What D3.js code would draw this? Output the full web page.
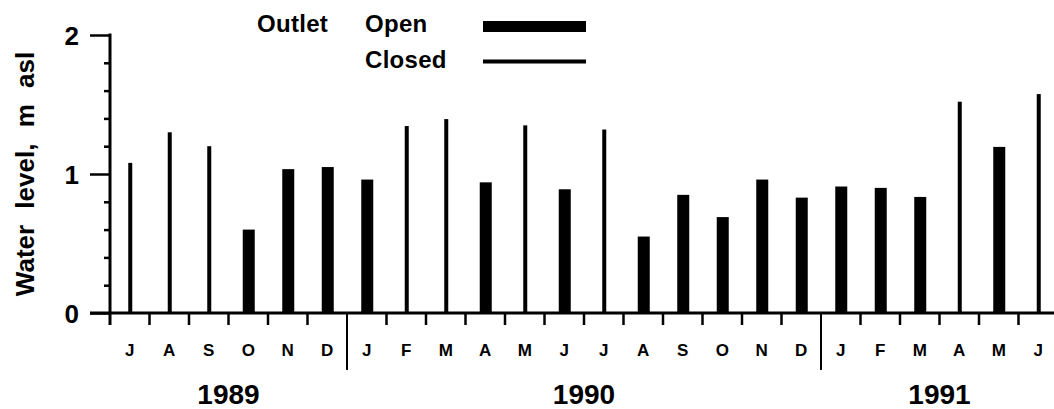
<!DOCTYPE html>
<html>
<head>
<meta charset="utf-8">
<script src="https://cdn.jsdelivr.net/npm/d3@7"></script>
<style>
  body { margin: 0; background: #fff; }
  svg { display: block; font-family: "Liberation Sans", Arial, Helvetica, sans-serif; }
</style>
</head>
<body>
<div class="chart-container"></div>
<script>
const monthLabels = ["J","A","S","O","N","D","J","F","M","A","M","J","J","A","S","O","N","D","J","F","M","A","M","J"];
const waterLevel = [1.08,1.30,1.20,0.60,1.035,1.05, 0.96,1.345,1.395,0.94,1.35,0.89,1.32,0.55,0.85,0.69,0.96,0.83, 0.91,0.90,0.835,1.52,1.195,1.575];
const outletState = ["Closed","Closed","Closed","Open","Open","Open", "Open","Closed","Closed","Open","Closed","Open","Closed","Open","Open","Open","Open","Open", "Open","Open","Open","Closed","Open","Closed"];
const yearLabels = ["1989","1990","1991"];
const yearMonths = [6, 12, 6];
const yTicks = [0, 0.2, 0.4, 0.6, 0.8, 1, 1.2, 1.4, 1.6, 1.8, 2];
const legendItems = ["Open", "Closed"];

const width = 1054, height = 409;
const x0 = 110, monthW = 39.5;

const svg = d3.select(".chart-container").append("svg")
  .attr("width", width)
  .attr("height", height);

const data = waterLevel.map((v, i) => ({ i, month: monthLabels[i], level: v, outlet: outletState[i] }));

const xScale = d3.scaleBand()
  .domain(d3.range(monthLabels.length))
  .range([x0, x0 + monthW * monthLabels.length])
  .padding(0);

const yScale = d3.scaleLinear()
  .domain([0, 2])
  .range([313, 35]);

const barWidth = d3.scaleOrdinal()
  .domain(["Open", "Closed"])
  .range([12, 4]);

// bars
svg.selectAll(".bar")
  .data(data)
  .enter().append("rect")
  .attr("class", "bar")
  .attr("x", d => xScale(d.i) + xScale.bandwidth() / 2 - barWidth(d.outlet) / 2 + 0.5)
  .attr("y", d => yScale(d.level))
  .attr("width", d => barWidth(d.outlet))
  .attr("height", d => yScale(0) - yScale(d.level))
  .attr("fill", "#000");

// y axis
const yAxis = svg.append("g")
  .attr("transform", `translate(${x0},0)`)
  .call(d3.axisLeft(yScale)
    .tickValues(yTicks)
    .tickSize(0)
    .tickFormat(""));
yAxis.select(".domain").remove();

yAxis.append("line")
  .attr("x1", 0).attr("x2", 0)
  .attr("y1", yScale(2) - 1.5)
  .attr("y2", yScale(0) + 12)
  .attr("stroke", "#000")
  .attr("stroke-width", 3);

yAxis.selectAll(".tick line")
  .attr("x2", d => (d % 1 === 0 ? -20 : -6))
  .attr("stroke", "#000")
  .attr("stroke-width", 2.5);

yAxis.selectAll(".tick")
  .filter(d => d % 1 === 0)
  .append("text")
  .attr("x", -31)
  .attr("dy", "0.36em")
  .attr("fill", "#000")
  .style("text-anchor", "end")
  .style("font-size", "26px")
  .style("font-weight", "bold")
  .text(d => d3.format("d")(d));

svg.append("text")
  .attr("transform", `translate(34,174) rotate(-90)`)
  .style("text-anchor", "middle")
  .style("font-size", "26px")
  .style("font-weight", "bold")
  .style("word-spacing", "9px")
  .text("Water level, m asl");

// x axis
svg.append("line")
  .attr("x1", x0 - 20).attr("x2", width)
  .attr("y1", yScale(0)).attr("y2", yScale(0))
  .attr("stroke", "#000")
  .attr("stroke-width", 3);

const yearStarts = d3.cumsum([0].concat(yearMonths)).slice(0, -1);

svg.selectAll(".month-tick")
  .data(d3.range(1, monthLabels.length + 1))
  .enter().append("line")
  .attr("class", "month-tick")
  .attr("x1", i => x0 + monthW * i).attr("x2", i => x0 + monthW * i)
  .attr("y1", yScale(0))
  .attr("y2", i => (yearStarts.includes(i) ? 370 : 325))
  .attr("stroke", "#000")
  .attr("stroke-width", i => (yearStarts.includes(i) ? 2 : 2.5));

svg.selectAll(".month-label")
  .data(data)
  .enter().append("text")
  .attr("class", "month-label")
  .attr("x", d => xScale(d.i) + xScale.bandwidth() / 2)
  .attr("y", 356)
  .style("text-anchor", "middle")
  .style("font-size", "17px")
  .style("font-weight", "bold")
  .text(d => d.month);

svg.selectAll(".year-label")
  .data(yearLabels)
  .enter().append("text")
  .attr("class", "year-label")
  .attr("x", (d, i) => x0 + monthW * (yearStarts[i] + yearMonths[i] / 2))
  .attr("y", 404)
  .style("text-anchor", "middle")
  .style("font-size", "28px")
  .style("font-weight", "bold")
  .text(d => d);

// legend
const legend = svg.append("g").attr("class", "legend");

legend.append("text")
  .attr("x", 257)
  .attr("y", 32)
  .style("font-size", "24px")
  .style("font-weight", "bold")
  .style("letter-spacing", "0.3px")
  .text("Outlet");

const legendRows = legend.selectAll(".legend-item")
  .data(legendItems)
  .enter().append("g")
  .attr("class", "legend-item")
  .attr("transform", (d, i) => `translate(0, ${i * 36})`);

legendRows.append("text")
  .attr("x", 365)
  .attr("y", 32)
  .style("font-size", "24px")
  .style("font-weight", "bold")
  .style("letter-spacing", "0.3px")
  .text(d => d);

legendRows.append("line")
  .attr("x1", 483).attr("x2", 586)
  .attr("y1", (d, i) => (i === 0 ? 26.5 : 25.5))
  .attr("y2", (d, i) => (i === 0 ? 26.5 : 25.5))
  .attr("stroke", "#000")
  .attr("stroke-width", d => (d === "Open" ? 11 : 4));
</script>
</body>
</html>
